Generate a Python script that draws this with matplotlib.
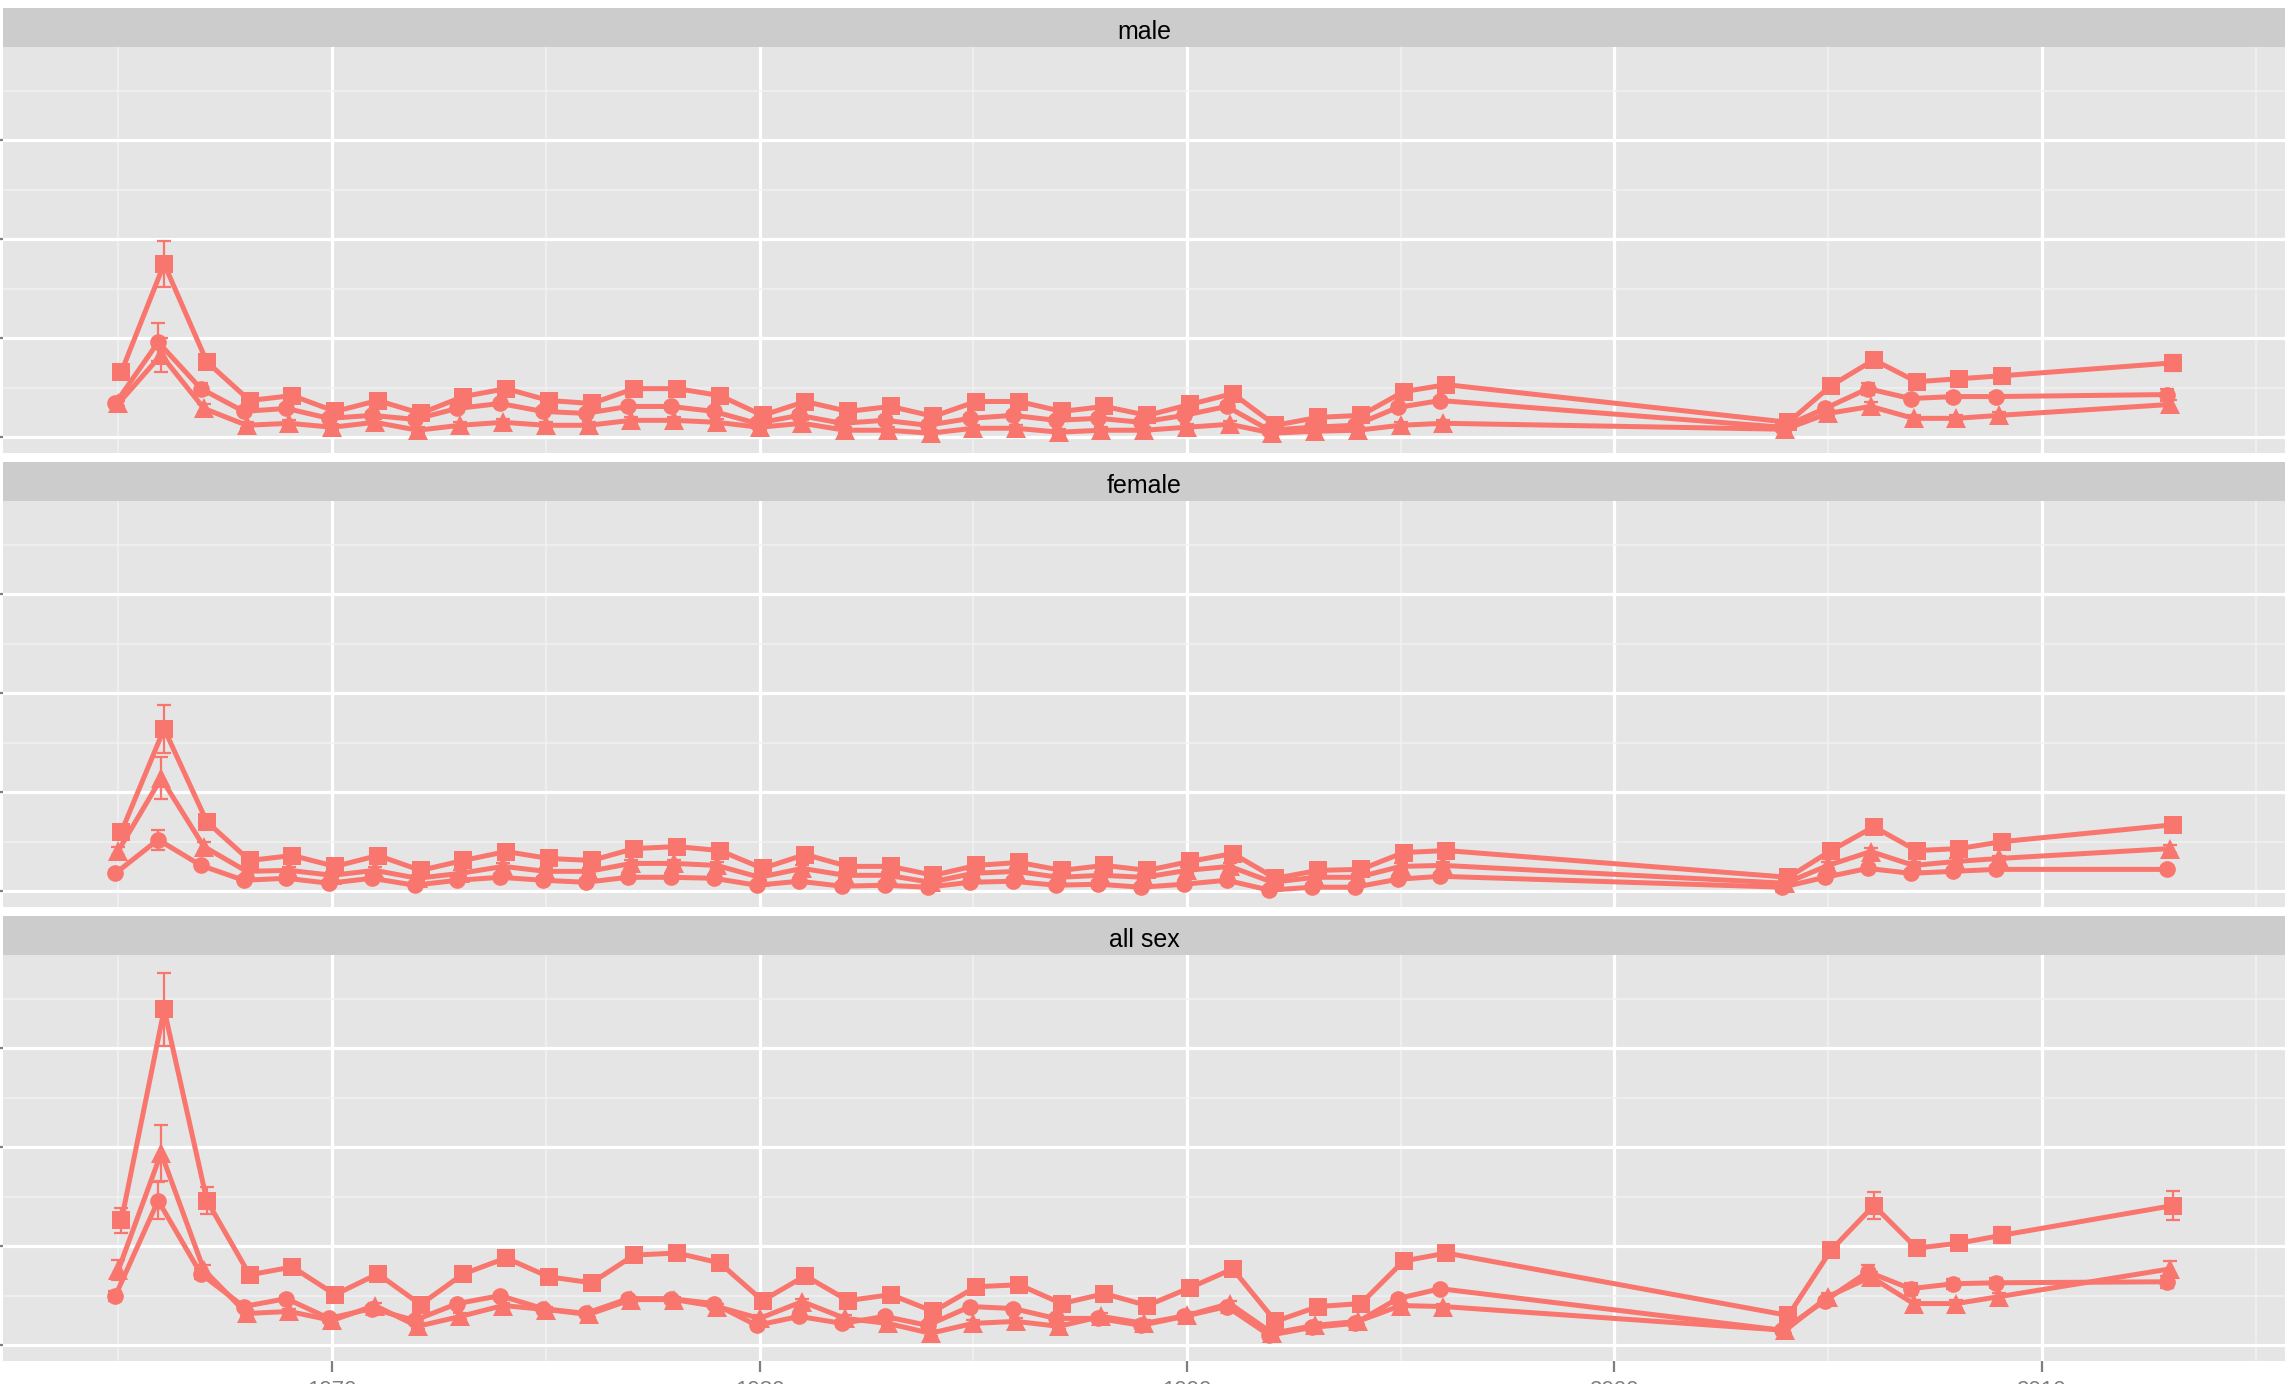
import matplotlib
matplotlib.use("Agg")
import matplotlib.pyplot as plt
from matplotlib.ticker import MultipleLocator

plt.rcParams['font.family'] = ['Liberation Sans', 'DejaVu Sans']

# years with data (gap 1997-2003, 2010-2012)
years = list(range(1965, 1997)) + list(range(2004, 2010)) + [2013]

panels = ["male", "female", "all sex"]

# values in units of one major grid step (axis labels are cropped off in the source)
male_sq = [0.66, 1.75, 0.76, 0.37, 0.42, 0.26, 0.37, 0.24, 0.41, 0.49, 0.37, 0.34, 0.49, 0.49, 0.42, 0.22,
           0.36, 0.26, 0.31, 0.21, 0.36, 0.36, 0.26, 0.31, 0.22, 0.33, 0.44, 0.12, 0.20, 0.22, 0.46, 0.53,
           0.15, 0.52, 0.78, 0.56, 0.59, 0.62, 0.75]
male_ci = [0.34, 0.96, 0.49, 0.26, 0.29, 0.19, 0.22, 0.18, 0.29, 0.34, 0.26, 0.24, 0.31, 0.31, 0.26, 0.14,
           0.22, 0.14, 0.17, 0.12, 0.19, 0.22, 0.17, 0.19, 0.15, 0.22, 0.31, 0.07, 0.10, 0.12, 0.30, 0.37,
           0.10, 0.29, 0.49, 0.39, 0.41, 0.41, 0.43]
male_tr = [0.34, 0.83, 0.29, 0.12, 0.14, 0.10, 0.15, 0.07, 0.12, 0.15, 0.12, 0.12, 0.17, 0.17, 0.15, 0.10,
           0.14, 0.07, 0.07, 0.04, 0.09, 0.09, 0.05, 0.07, 0.07, 0.10, 0.13, 0.04, 0.06, 0.07, 0.12, 0.14,
           0.08, 0.24, 0.31, 0.19, 0.19, 0.22, 0.33]

female_sq = [0.60, 1.64, 0.70, 0.31, 0.36, 0.25, 0.36, 0.21, 0.31, 0.40, 0.33, 0.31, 0.43, 0.45, 0.41, 0.23,
             0.37, 0.25, 0.25, 0.16, 0.26, 0.29, 0.21, 0.26, 0.21, 0.30, 0.38, 0.13, 0.21, 0.22, 0.39, 0.41,
             0.14, 0.41, 0.65, 0.41, 0.43, 0.50, 0.67]
female_ci = [0.18, 0.52, 0.26, 0.11, 0.13, 0.08, 0.13, 0.06, 0.11, 0.14, 0.11, 0.09, 0.14, 0.14, 0.13, 0.06,
             0.10, 0.05, 0.06, 0.04, 0.09, 0.10, 0.06, 0.07, 0.04, 0.07, 0.11, 0.01, 0.04, 0.04, 0.12, 0.15,
             0.04, 0.14, 0.23, 0.18, 0.20, 0.22, 0.22]
female_tr = [0.41, 1.14, 0.45, 0.20, 0.21, 0.16, 0.21, 0.13, 0.18, 0.25, 0.20, 0.20, 0.28, 0.28, 0.26, 0.14,
             0.23, 0.16, 0.16, 0.09, 0.18, 0.20, 0.14, 0.16, 0.14, 0.21, 0.25, 0.09, 0.14, 0.14, 0.25, 0.26,
             0.08, 0.26, 0.40, 0.26, 0.30, 0.33, 0.43]

all_sq = [1.26, 3.39, 1.46, 0.71, 0.79, 0.51, 0.72, 0.41, 0.72, 0.88, 0.69, 0.63, 0.91, 0.93, 0.83, 0.45,
          0.70, 0.45, 0.51, 0.34, 0.59, 0.61, 0.42, 0.52, 0.40, 0.58, 0.77, 0.24, 0.39, 0.42, 0.85, 0.93,
          0.30, 0.96, 1.41, 0.98, 1.03, 1.11, 1.41]
all_ci = [0.50, 1.46, 0.72, 0.39, 0.47, 0.27, 0.37, 0.25, 0.42, 0.50, 0.37, 0.32, 0.47, 0.47, 0.42, 0.20,
          0.29, 0.22, 0.29, 0.20, 0.39, 0.37, 0.27, 0.27, 0.20, 0.29, 0.39, 0.10, 0.18, 0.22, 0.47, 0.57,
          0.15, 0.45, 0.74, 0.57, 0.62, 0.63, 0.64]
all_tr = [0.76, 1.94, 0.76, 0.32, 0.34, 0.25, 0.40, 0.19, 0.29, 0.40, 0.36, 0.31, 0.46, 0.46, 0.39, 0.27,
          0.44, 0.27, 0.22, 0.12, 0.22, 0.24, 0.19, 0.29, 0.22, 0.30, 0.42, 0.12, 0.20, 0.24, 0.40, 0.39,
          0.15, 0.49, 0.69, 0.42, 0.42, 0.49, 0.77]

# error bar half widths
male_sq_err = [0.04, 0.23, 0.05, 0.03, 0.03, 0.03, 0.03, 0.03, 0.03, 0.03, 0.03, 0.03, 0.03, 0.03, 0.03, 0.03,
               0.03, 0.03, 0.03, 0.03, 0.03, 0.03, 0.03, 0.03, 0.03, 0.03, 0.03, 0.03, 0.03, 0.03, 0.03, 0.03,
               0.03, 0.03, 0.07, 0.04, 0.04, 0.04, 0.08]
male_ci_err = [0.03, 0.19, 0.06, 0.03, 0.03, 0.03, 0.03, 0.03, 0.03, 0.03, 0.03, 0.03, 0.03, 0.03, 0.03, 0.03,
               0.03, 0.03, 0.03, 0.03, 0.03, 0.03, 0.03, 0.03, 0.03, 0.03, 0.03, 0.03, 0.03, 0.03, 0.03, 0.03,
               0.03, 0.03, 0.06, 0.04, 0.04, 0.04, 0.06]
male_tr_err = [0.03, 0.17, 0.04, 0.03, 0.03, 0.03, 0.03, 0.03, 0.03, 0.03, 0.03, 0.03, 0.03, 0.03, 0.03, 0.03,
               0.03, 0.03, 0.03, 0.03, 0.03, 0.03, 0.03, 0.03, 0.03, 0.03, 0.03, 0.03, 0.03, 0.03, 0.03, 0.03,
               0.03, 0.03, 0.04, 0.03, 0.03, 0.03, 0.05]

female_sq_err = [0.04, 0.24, 0.05, 0.03, 0.03, 0.03, 0.03, 0.03, 0.03, 0.03, 0.03, 0.03, 0.03, 0.03, 0.03, 0.03,
                 0.03, 0.03, 0.03, 0.03, 0.03, 0.03, 0.03, 0.03, 0.03, 0.03, 0.03, 0.03, 0.03, 0.03, 0.03, 0.03,
                 0.03, 0.03, 0.05, 0.03, 0.03, 0.04, 0.05]
female_ci_err = [0.03, 0.10, 0.03, 0.03, 0.03, 0.03, 0.03, 0.03, 0.03, 0.03, 0.03, 0.03, 0.03, 0.03, 0.03, 0.03,
                 0.03, 0.03, 0.03, 0.03, 0.03, 0.03, 0.03, 0.03, 0.03, 0.03, 0.03, 0.03, 0.03, 0.03, 0.03, 0.03,
                 0.03, 0.03, 0.03, 0.03, 0.03, 0.03, 0.03]
female_tr_err = [0.04, 0.21, 0.05, 0.03, 0.03, 0.03, 0.03, 0.03, 0.03, 0.03, 0.03, 0.03, 0.03, 0.03, 0.03, 0.03,
                 0.03, 0.03, 0.03, 0.03, 0.03, 0.03, 0.03, 0.03, 0.03, 0.03, 0.03, 0.03, 0.03, 0.03, 0.03, 0.03,
                 0.03, 0.03, 0.04, 0.03, 0.03, 0.03, 0.04]

all_sq_err = [0.13, 0.37, 0.14, 0.03, 0.03, 0.03, 0.03, 0.03, 0.03, 0.03, 0.03, 0.03, 0.03, 0.03, 0.03, 0.03,
              0.03, 0.03, 0.03, 0.03, 0.03, 0.03, 0.03, 0.03, 0.03, 0.03, 0.03, 0.03, 0.03, 0.03, 0.03, 0.03,
              0.03, 0.04, 0.14, 0.05, 0.06, 0.08, 0.15]
all_ci_err = [0.05, 0.19, 0.05, 0.03, 0.03, 0.03, 0.03, 0.03, 0.03, 0.03, 0.03, 0.03, 0.03, 0.03, 0.03, 0.03,
              0.03, 0.03, 0.03, 0.03, 0.03, 0.03, 0.03, 0.03, 0.03, 0.03, 0.03, 0.03, 0.03, 0.03, 0.03, 0.03,
              0.03, 0.03, 0.07, 0.06, 0.05, 0.05, 0.06]
all_tr_err = [0.10, 0.28, 0.05, 0.03, 0.03, 0.03, 0.03, 0.03, 0.03, 0.03, 0.03, 0.03, 0.03, 0.03, 0.03, 0.03,
              0.03, 0.03, 0.03, 0.03, 0.03, 0.03, 0.03, 0.03, 0.03, 0.03, 0.03, 0.03, 0.03, 0.03, 0.03, 0.03,
              0.03, 0.04, 0.05, 0.04, 0.04, 0.04, 0.08]

series = [
    [(male_sq, male_sq_err), (male_ci, male_ci_err), (male_tr, male_tr_err)],
    [(female_sq, female_sq_err), (female_ci, female_ci_err), (female_tr, female_tr_err)],
    [(all_sq, all_sq_err), (all_ci, all_ci_err), (all_tr, all_tr_err)],
]
markers = ['s', 'o', '^']
msizes = [13, 12, 14]
dodge = [0.07, -0.07, 0.0]
col = '#F8766D'

W, H = 2285, 1384
fig = plt.figure(figsize=(W / 100, H / 100), dpi=100)


def px_axes(x0, y0, x1, y1):
    return fig.add_axes([x0 / W, 1 - y1 / H, (x1 - x0) / W, (y1 - y0) / H])


panel_tops = [47, 501, 955]
for i, name in enumerate(panels):
    top = panel_tops[i]
    ax = px_axes(3, top, W, top + 406)
    strip = px_axes(3, top - 39, W, top)
    strip.set_facecolor('#CCCCCC')
    strip.set_xticks([])
    strip.set_yticks([])
    for s in strip.spines.values():
        s.set_visible(False)
    strip.text(0.5, 0.45, name, ha='center', va='center_baseline', fontsize=18, color='black',
               transform=strip.transAxes)

    ax.set_facecolor('#E5E5E5')
    for s in ax.spines.values():
        s.set_visible(False)
    ax.set_xlim(1962.30, 2015.69)
    ax.set_ylim(-0.16, 3.94)
    ax.xaxis.set_major_locator(MultipleLocator(10))
    ax.xaxis.set_minor_locator(MultipleLocator(5))
    ax.yaxis.set_major_locator(MultipleLocator(1))
    ax.yaxis.set_minor_locator(MultipleLocator(0.5))
    ax.set_axisbelow(True)
    ax.grid(which='major', color='white', lw=2.3)
    ax.grid(which='minor', color='#F2F2F2', lw=1.1)
    ax.tick_params(which='minor', length=0)
    ax.tick_params(which='major', direction='out', length=8, width=1.6, color='#7F7F7F',
                   labelleft=False, labelsize=16, labelcolor='#7F7F7F', pad=6)
    if i < 2:
        ax.tick_params(axis='x', which='major', length=0, labelbottom=False)

    for j, (vals, errs) in enumerate(series[i]):
        xs = [y + dodge[j] for y in years]
        ax.errorbar(xs, vals, yerr=errs, fmt='none', ecolor=col, elinewidth=1.6,
                    capsize=4.7, capthick=1.6, zorder=2)
        ax.plot(xs, vals, color=col, lw=3.6, marker=markers[j], markersize=msizes[j],
                markeredgewidth=0, zorder=3)

fig.savefig('out.png', dpi=100, facecolor='white')
